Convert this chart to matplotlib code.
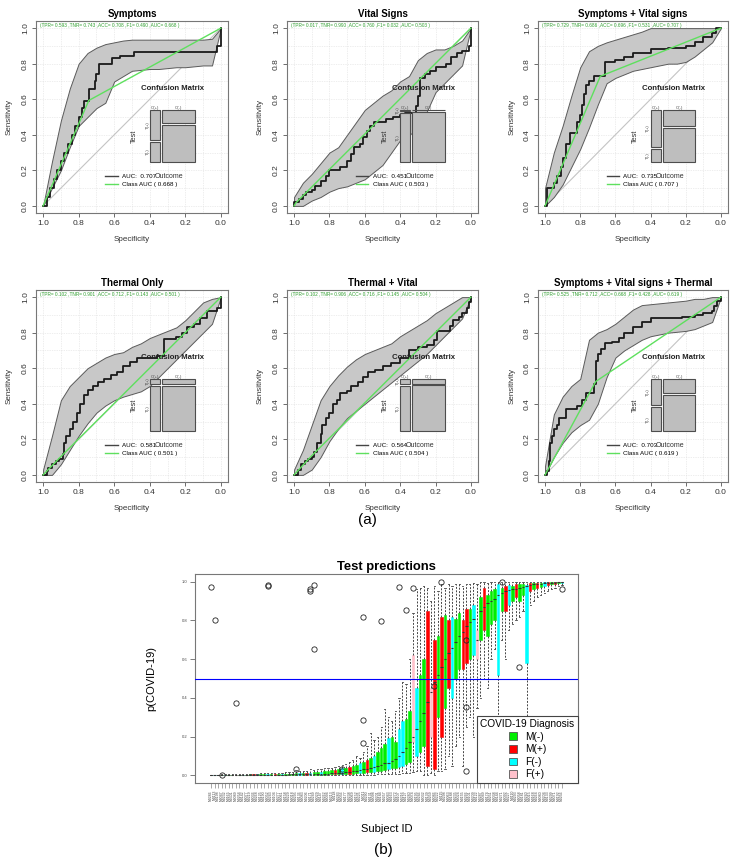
import numpy as np
import matplotlib
matplotlib.use("Agg")
import matplotlib.pyplot as plt
from matplotlib.patches import Rectangle, Patch
from matplotlib.lines import Line2D

plt.rcParams['font.family'] = ['Liberation Sans', 'DejaVu Sans']

# ---------------- (a) ROC panels ----------------
panel_titles = ["Symptoms", "Vital Signs", "Symptoms + Vital signs",
                "Thermal Only", "Thermal + Vital", "Symptoms + Vital signs + Thermal"]
auc = [0.707, 0.451, 0.735, 0.581, 0.564, 0.703]
class_auc = [0.668, 0.503, 0.707, 0.501, 0.504, 0.619]
tpr = [0.593, 0.017, 0.729, 0.102, 0.102, 0.525]
tnr = [0.743, 0.990, 0.686, 0.901, 0.906, 0.712]
acc = [0.708, 0.760, 0.696, 0.712, 0.716, 0.668]
f1 = [0.490, 0.032, 0.531, 0.143, 0.145, 0.428]
prevalence = 0.236  # share of O(+) in the test set

ci_spec = [1.0, 0.95, 0.9, 0.85, 0.8, 0.75, 0.7, 0.65, 0.6, 0.55, 0.5,
           0.45, 0.4, 0.35, 0.3, 0.25, 0.2, 0.15, 0.1, 0.05, 0.0]
ci_upper = [
    [0.0, 0.25, 0.48, 0.66, 0.80, 0.86, 0.89, 0.91, 0.92, 0.93, 0.935, 0.935, 0.935, 0.935, 0.935, 0.935, 0.935, 0.935, 0.935, 0.94, 1.0],
    [0.05, 0.13, 0.18, 0.24, 0.30, 0.33, 0.40, 0.47, 0.54, 0.58, 0.62, 0.65, 0.70, 0.73, 0.82, 0.86, 0.88, 0.88, 0.90, 0.93, 1.0],
    [0.10, 0.30, 0.45, 0.62, 0.78, 0.87, 0.90, 0.92, 0.935, 0.95, 0.965, 0.98, 1.0, 1.0, 1.0, 1.0, 1.0, 1.0, 1.0, 1.0, 1.0],
    [0.03, 0.22, 0.42, 0.50, 0.55, 0.60, 0.63, 0.66, 0.68, 0.69, 0.72, 0.74, 0.77, 0.79, 0.81, 0.83, 0.87, 0.92, 0.97, 0.99, 1.0],
    [0.03, 0.14, 0.28, 0.42, 0.50, 0.56, 0.61, 0.65, 0.68, 0.70, 0.72, 0.74, 0.78, 0.81, 0.84, 0.87, 0.91, 0.94, 0.97, 1.0, 1.0],
    [0.05, 0.34, 0.44, 0.50, 0.54, 0.76, 0.80, 0.82, 0.85, 0.89, 0.93, 0.955, 0.96, 0.965, 0.97, 0.975, 0.98, 0.99, 0.99, 1.0, 1.0],
]
ci_lower = [
    [0.0, 0.10, 0.20, 0.33, 0.45, 0.50, 0.55, 0.58, 0.70, 0.73, 0.76, 0.765, 0.77, 0.77, 0.775, 0.78, 0.78, 0.785, 0.79, 0.79, 1.0],
    [0.0, 0.0, 0.03, 0.05, 0.08, 0.10, 0.11, 0.13, 0.15, 0.19, 0.23, 0.30, 0.37, 0.40, 0.43, 0.53, 0.64, 0.69, 0.74, 0.79, 1.0],
    [0.0, 0.05, 0.12, 0.22, 0.32, 0.44, 0.57, 0.69, 0.72, 0.74, 0.76, 0.77, 0.78, 0.79, 0.80, 0.80, 0.81, 0.84, 0.88, 0.92, 1.0],
    [0.0, 0.0, 0.06, 0.14, 0.22, 0.29, 0.35, 0.39, 0.42, 0.44, 0.455, 0.47, 0.50, 0.55, 0.60, 0.65, 0.70, 0.75, 0.80, 0.85, 1.0],
    [0.0, 0.0, 0.03, 0.10, 0.19, 0.26, 0.32, 0.36, 0.40, 0.44, 0.48, 0.52, 0.56, 0.60, 0.64, 0.68, 0.73, 0.78, 0.83, 0.88, 1.0],
    [0.0, 0.10, 0.18, 0.24, 0.28, 0.31, 0.40, 0.55, 0.66, 0.70, 0.73, 0.76, 0.78, 0.79, 0.80, 0.805, 0.81, 0.82, 0.84, 0.86, 1.0],
]

roc_spec = [
    [1.0, 0.98, 0.96, 0.94, 0.92, 0.90, 0.88, 0.86, 0.84, 0.82, 0.80, 0.78, 0.77, 0.74, 0.71, 0.70, 0.685, 0.61, 0.57, 0.49, 0.02, 0.0],
    [1.00, 1.00, 0.97, 0.95, 0.93, 0.90, 0.88, 0.85, 0.82, 0.80, 0.77, 0.74, 0.70, 0.68, 0.66, 0.63, 0.61, 0.59, 0.57, 0.55,
     0.52, 0.48, 0.44, 0.40, 0.37, 0.34, 0.31, 0.30, 0.29, 0.26, 0.23, 0.20, 0.17, 0.14, 0.11, 0.08, 0.05, 0.03, 0.01, 0.00],
    [1.0, 0.99, 0.97, 0.95, 0.93, 0.91, 0.90, 0.88, 0.86, 0.84, 0.82, 0.80, 0.79, 0.78, 0.77,
     0.75, 0.72, 0.67, 0.66, 0.60, 0.55, 0.50, 0.40, 0.30, 0.20, 0.15, 0.10, 0.05, 0.03, 0.0],
    [1.0, 0.98, 0.97, 0.95, 0.93, 0.91, 0.89, 0.88, 0.87, 0.85, 0.83, 0.81, 0.79, 0.77, 0.75, 0.72, 0.69,
     0.66, 0.62, 0.585, 0.55, 0.51, 0.47, 0.36, 0.32, 0.25, 0.22, 0.19, 0.15, 0.115, 0.08, 0.02, 0.0],
    [1.0, 0.98, 0.96, 0.94, 0.92, 0.90, 0.89, 0.87, 0.85, 0.84, 0.82, 0.80, 0.78, 0.76, 0.74, 0.70, 0.68, 0.64, 0.61,
     0.58, 0.54, 0.50, 0.45, 0.40, 0.35, 0.30, 0.25, 0.21, 0.19, 0.15, 0.12, 0.10, 0.07, 0.05, 0.02, 0.01, 0.0],
    [1.0, 0.99, 0.98, 0.97, 0.96, 0.95, 0.93, 0.92, 0.88, 0.85, 0.82, 0.79, 0.77, 0.73, 0.72, 0.71,
     0.70, 0.68, 0.66, 0.62, 0.58, 0.55, 0.50, 0.45, 0.40, 0.22, 0.15, 0.10, 0.05, 0.04, 0.02, 0.0],
]
roc_sens = [
    [0.0, 0.05, 0.10, 0.15, 0.20, 0.25, 0.30, 0.35, 0.40, 0.45, 0.50, 0.55, 0.59, 0.66, 0.70, 0.74, 0.80, 0.83, 0.845, 0.866, 0.90, 1.0],
    [0.00, 0.02, 0.04, 0.06, 0.08, 0.09, 0.11, 0.14, 0.17, 0.20, 0.20, 0.22, 0.25, 0.29, 0.33, 0.35, 0.39, 0.42, 0.45, 0.47,
     0.47, 0.49, 0.50, 0.51, 0.52, 0.52, 0.56, 0.62, 0.72, 0.74, 0.76, 0.78, 0.78, 0.80, 0.84, 0.86, 0.87, 0.87, 0.90, 1.00],
    [0.0, 0.10, 0.10, 0.13, 0.17, 0.22, 0.27, 0.35, 0.41, 0.41, 0.47, 0.51, 0.57, 0.63, 0.68,
     0.70, 0.73, 0.73, 0.81, 0.82, 0.84, 0.86, 0.88, 0.89, 0.90, 0.92, 0.95, 0.97, 1.0, 1.0],
    [0.0, 0.02, 0.04, 0.06, 0.08, 0.09, 0.12, 0.18, 0.22, 0.26, 0.30, 0.35, 0.40, 0.45, 0.48, 0.50, 0.52,
     0.54, 0.56, 0.58, 0.61, 0.635, 0.66, 0.67, 0.766, 0.775, 0.80, 0.83, 0.85, 0.88, 0.92, 0.94, 1.0],
    [0.0, 0.03, 0.06, 0.08, 0.09, 0.10, 0.13, 0.18, 0.23, 0.28, 0.32, 0.35, 0.40, 0.42, 0.46, 0.47, 0.50, 0.52, 0.55,
     0.58, 0.59, 0.61, 0.63, 0.66, 0.70, 0.72, 0.73, 0.76, 0.81, 0.81, 0.84, 0.87, 0.89, 0.91, 0.94, 0.97, 1.0],
    [0.0, 0.02, 0.08, 0.18, 0.22, 0.26, 0.28, 0.32, 0.37, 0.37, 0.39, 0.42, 0.46, 0.46, 0.51, 0.64,
     0.68, 0.71, 0.74, 0.75, 0.77, 0.80, 0.83, 0.86, 0.88, 0.89, 0.90, 0.91, 0.92, 0.95, 0.98, 1.0],
]

# ---------------- (b) test predictions ----------------
group_codes = ["M-", "M+", "F-", "F+"]
group_names = ["M(-)", "M(+)", "F(-)", "F(+)"]
group_colors = ["#00ee00", "#ff0000", "#00ffff", "#ffc0cb"]

subject_ids = [
    "N0286", "N0113", "N0198", "N0047", "N0232", "N0165", "N0301", "N0089", "N0254", "N0142",
    "N0077", "N0219", "N0036", "N0268", "N0125", "N0190", "N0052", "N0243", "N0104", "N0277",
    "N0061", "N0158", "N0229", "N0018", "N0295", "N0136", "N0083", "N0206", "N0171", "N0249",
    "N0029", "N0147", "N0262", "N0094", "N0213", "N0118", "N0283", "N0056", "N0177", "N0238",
    "N0069", "N0152", "N0225", "N0011", "N0290", "N0131", "N0098", "N0201", "N0184", "N0257",
    "N0043", "N0163", "N0272", "N0107", "N0216", "N0127", "N0280", "N0074", "N0195", "N0246",
    "N0032", "N0139", "N0259", "N0086", "N0222", "N0115", "N0298", "N0063", "N0188", "N0235",
    "N0024", "N0155", "N0266", "N0101", "N0209", "N0122", "N0287", "N0049", "N0174", "N0251",
    "N0038", "N0144", "N0271", "N0092", "N0227", "N0110", "N0293", "N0058", "N0181", "N0240",
    "N0015", "N0168", "N0264", "N0080", "N0204", "N0133", "N0299", "N0071", "N0192", "N0256"]

box_group = [
    "M-", "F-", "M+", "M-", "F-", "M-", "M-", "F+", "M-", "F-",
    "M-", "M-", "M+", "F-", "M-", "M-", "F-", "M-", "M+", "M-",
    "F-", "M-", "M-", "M-", "M-", "F-", "M-", "M+", "F-", "M-",
    "M-", "F-", "M-", "M-", "M-", "M+", "M-", "F-", "M-", "M+",
    "M-", "M-", "F-", "M-", "M+", "M-", "F-", "M-", "M-", "M-",
    "F-", "M-", "M-", "F-", "F-", "M-", "M-", "F+", "F-", "M-",
    "M-", "M+", "F+", "M+", "M-", "M+", "M-", "M+", "F-", "M-",
    "M-", "M+", "M+", "M-", "F-", "F+", "M-", "M+", "M-", "M-",
    "M-", "F-", "M-", "M+", "F-", "M-", "M+", "M-", "M-", "F-",
    "M+", "M-", "M+", "M-", "F-", "M+", "M-", "M+", "M-", "F-"]
box_med = [
    0.000, 0.000, 0.000, 0.001, 0.001, 0.001, 0.001, 0.001, 0.001, 0.001,
    0.001, 0.002, 0.002, 0.002, 0.002, 0.002, 0.002, 0.003, 0.003, 0.003,
    0.003, 0.003, 0.004, 0.004, 0.004, 0.005, 0.005, 0.005, 0.006, 0.006,
    0.007, 0.007, 0.008, 0.009, 0.010, 0.011, 0.012, 0.014, 0.016, 0.018,
    0.020, 0.023, 0.026, 0.030, 0.034, 0.038, 0.043, 0.048, 0.055, 0.062,
    0.065, 0.075, 0.085, 0.100, 0.120, 0.140, 0.170, 0.200, 0.240, 0.280,
    0.320, 0.380, 0.430, 0.480, 0.520, 0.560, 0.600, 0.630, 0.660, 0.690,
    0.720, 0.740, 0.770, 0.790, 0.810, 0.700, 0.850, 0.870, 0.890, 0.900,
    0.910, 0.930, 0.940, 0.950, 0.955, 0.960, 0.965, 0.970, 0.975, 0.980,
    0.983, 0.986, 0.988, 0.990, 0.992, 0.994, 0.995, 0.996, 0.997, 0.998]
box_q1 = [
    0.000, 0.000, 0.000, 0.000, 0.000, 0.000, 0.000, 0.000, 0.000, 0.000,
    0.000, 0.001, 0.001, 0.001, 0.001, 0.001, 0.001, 0.001, 0.001, 0.001,
    0.001, 0.001, 0.001, 0.002, 0.002, 0.002, 0.002, 0.002, 0.002, 0.003,
    0.003, 0.003, 0.003, 0.004, 0.004, 0.005, 0.005, 0.006, 0.007, 0.008,
    0.009, 0.010, 0.011, 0.013, 0.015, 0.016, 0.018, 0.020, 0.024, 0.028,
    0.030, 0.035, 0.040, 0.045, 0.050, 0.060, 0.070, 0.170, 0.100, 0.120,
    0.150, 0.050, 0.200, 0.030, 0.300, 0.200, 0.350, 0.450, 0.400, 0.500,
    0.550, 0.550, 0.580, 0.600, 0.620, 0.600, 0.700, 0.750, 0.720, 0.780,
    0.800, 0.520, 0.850, 0.850, 0.880, 0.900, 0.920, 0.900, 0.930, 0.580,
    0.950, 0.960, 0.970, 0.975, 0.980, 0.985, 0.987, 0.990, 0.992, 0.994]
box_q3 = [
    0.001, 0.001, 0.001, 0.002, 0.002, 0.002, 0.002, 0.003, 0.003, 0.003,
    0.003, 0.004, 0.004, 0.004, 0.005, 0.005, 0.005, 0.006, 0.006, 0.007,
    0.007, 0.008, 0.008, 0.009, 0.010, 0.011, 0.012, 0.013, 0.014, 0.015,
    0.016, 0.018, 0.020, 0.022, 0.025, 0.028, 0.032, 0.036, 0.040, 0.045,
    0.050, 0.055, 0.062, 0.070, 0.080, 0.090, 0.100, 0.120, 0.140, 0.160,
    0.190, 0.200, 0.170, 0.240, 0.280, 0.290, 0.330, 0.620, 0.450, 0.520,
    0.600, 0.850, 0.450, 0.700, 0.720, 0.820, 0.830, 0.800, 0.820, 0.810,
    0.840, 0.800, 0.860, 0.860, 0.880, 0.750, 0.920, 0.970, 0.930, 0.950,
    0.960, 0.990, 0.970, 0.980, 0.985, 0.980, 0.990, 0.990, 0.990, 0.985,
    0.992, 0.994, 0.995, 0.996, 0.997, 0.998, 0.998, 0.999, 0.999, 1.000]
box_lo = [
    0.000, 0.000, 0.000, 0.000, 0.000, 0.000, 0.000, 0.000, 0.000, 0.000,
    0.000, 0.000, 0.000, 0.000, 0.000, 0.000, 0.000, 0.000, 0.000, 0.000,
    0.000, 0.000, 0.000, 0.000, 0.000, 0.000, 0.000, 0.000, 0.000, 0.000,
    0.000, 0.000, 0.000, 0.000, 0.000, 0.001, 0.001, 0.001, 0.001, 0.001,
    0.001, 0.001, 0.002, 0.002, 0.002, 0.003, 0.003, 0.004, 0.004, 0.005,
    0.005, 0.006, 0.007, 0.008, 0.010, 0.010, 0.012, 0.015, 0.020, 0.020,
    0.000, 0.000, 0.010, 0.000, 0.020, 0.020, 0.030, 0.100, 0.050, 0.150,
    0.200, 0.050, 0.250, 0.300, 0.200, 0.350, 0.400, 0.500, 0.450, 0.600,
    0.650, 0.200, 0.700, 0.600, 0.750, 0.780, 0.800, 0.820, 0.850, 0.300,
    0.880, 0.900, 0.920, 0.930, 0.940, 0.950, 0.960, 0.970, 0.980, 0.985]
box_hi = [
    0.002, 0.002, 0.003, 0.004, 0.004, 0.005, 0.005, 0.006, 0.006, 0.007,
    0.007, 0.008, 0.008, 0.009, 0.010, 0.010, 0.011, 0.012, 0.012, 0.013,
    0.014, 0.015, 0.016, 0.018, 0.025, 0.020, 0.022, 0.024, 0.030, 0.028,
    0.030, 0.032, 0.035, 0.040, 0.038, 0.045, 0.050, 0.055, 0.060, 0.070,
    0.080, 0.100, 0.090, 0.120, 0.150, 0.220, 0.180, 0.200, 0.250, 0.340,
    0.300, 0.280, 0.330, 0.400, 0.480, 0.470, 0.600, 0.840, 0.960, 0.970,
    0.980, 0.970, 0.900, 0.980, 0.950, 0.990, 0.970, 0.990, 0.980, 0.990,
    0.990, 0.980, 0.990, 0.990, 0.995, 0.990, 1.000, 1.000, 0.995, 1.000,
    1.000, 1.000, 1.000, 1.000, 1.000, 1.000, 1.000, 1.000, 1.000, 1.000,
    1.000, 1.000, 1.000, 1.000, 1.000, 1.000, 1.000, 1.000, 1.000, 1.000]
outlier_box = [1, 2, 4, 8, 17, 17, 25, 29, 29, 30, 30, 38, 38, 44, 44, 44, 49, 54, 56, 58,
               64, 66, 73, 73, 73, 83, 88, 100]
outlier_val = [0.975, 0.80, 0.0, 0.375, 0.985, 0.98, 0.03, 0.95, 0.965, 0.985, 0.65, 0.03, 0.02,
               0.82, 0.285, 0.165, 0.795, 0.975, 0.855, 0.97, 0.46, 1.0, 0.70, 0.355, 0.02,
               1.0, 0.56, 0.96]

W, H = 735, 863
fig = plt.figure(figsize=(W / 100, H / 100), dpi=100)


def px_axes(left, top, right, bottom):
    return fig.add_axes([left / W, 1 - bottom / H, (right - left) / W, (bottom - top) / H])


GREEN = "#5ee05e"
AXC = "#555555"


def draw_roc(ax, k):
    ax.set_xlim(1.04, -0.04)
    ax.set_ylim(-0.04, 1.04)
    ticks = [1.0, 0.8, 0.6, 0.4, 0.2, 0.0]
    ax.set_xticks(ticks)
    ax.set_yticks(ticks[::-1])
    ax.set_xticklabels([f"{t:.1f}" for t in ticks])
    ax.set_yticklabels([f"{t:.1f}" for t in ticks[::-1]])
    grid = np.arange(0, 1.01, 0.1)
    for g in grid:
        ax.axvline(g, color="#dddddd", lw=0.5, ls=(0, (1, 1.5)), zorder=0)
        ax.axhline(g, color="#dddddd", lw=0.5, ls=(0, (1, 1.5)), zorder=0)
    ax.plot([1, 0], [0, 1], color="#c4c4c4", lw=0.8, zorder=1)
    ax.fill_between(ci_spec, ci_lower[k], ci_upper[k], facecolor="#c8c8c8",
                    edgecolor="#5a5a5a", lw=0.7, zorder=2)
    ax.step(roc_spec[k], roc_sens[k], where="post", color="#1a1a1a", lw=1.3, zorder=4)
    ax.plot([1, tnr[k], 0], [0, tpr[k], 1], color=GREEN, lw=1.0, zorder=5)

    ax.text(1.02, 1.017,
            f"(TPR= {tpr[k]:.3f} ,TNR= {tnr[k]:.3f} ,ACC= {acc[k]:.3f} ,F1= {f1[k]:.3f} ,AUC= {class_auc[k]:.3f} )",
            color="#2f9e2f", fontsize=3.4, ha="left", va="center", zorder=6)

    # confusion matrix mosaic
    x_hi, x_lo, y_lo, y_hi, gap = 0.40, 0.145, 0.245, 0.54, 0.01
    wt = (x_hi - x_lo) - gap
    ht = (y_hi - y_lo) - gap
    w_pos = prevalence * wt
    cols = [(x_hi - w_pos, w_pos, tpr[k]), (x_lo, wt - w_pos, 1 - tnr[k])]
    tile = dict(facecolor="#bebebe", edgecolor="#4d4d4d", lw=0.8, zorder=7)
    for x0, w, frac_top in cols:
        h_top = frac_top * ht
        ax.add_patch(Rectangle((x0, y_hi - h_top), w, h_top, **tile))
        ax.add_patch(Rectangle((x0, y_lo), w, ht - h_top, **tile))
    ax.text(x_hi - w_pos / 2, y_hi + 0.013, "O(+)", fontsize=3, ha="center", va="center", color="#444", zorder=8)
    ax.text(x_lo + (wt - w_pos) / 2, y_hi + 0.013, "O(-)", fontsize=3, ha="center", va="center", color="#444", zorder=8)
    h_top = tpr[k] * ht
    ax.text(x_hi + 0.013, y_hi - h_top / 2, "T(+)", fontsize=3, rotation=90, ha="center", va="center", color="#444", zorder=8)
    ax.text(x_hi + 0.013, y_lo + (ht - h_top) / 2, "T(-)", fontsize=3, rotation=90, ha="center", va="center", color="#444", zorder=8)
    ax.text(0.485, (y_lo + y_hi) / 2, "Test", fontsize=5.3, rotation=90, ha="center", va="center", color="#333", zorder=8)
    ax.text(0.29, 0.165, "Outcome", fontsize=5, ha="center", va="center", color="#333", zorder=8)
    ax.text(0.27, 0.66, "Confusion Matrix", fontsize=5.6, fontweight="bold", ha="center", va="center", color="#222", zorder=8)

    handles = [Line2D([], [], color="#444444", lw=1.0), Line2D([], [], color=GREEN, lw=1.0)]
    labels = [f"AUC:  {auc[k]:.3f}", f"Class AUC ( {class_auc[k]:.3f} )"]
    ax.legend(handles, labels, loc="upper left", bbox_to_anchor=(0.361, 0.205), frameon=False,
              fontsize=4.5, handlelength=2.0, handletextpad=0.7, labelspacing=0.45,
              borderpad=0, borderaxespad=0)

    ax.set_title(panel_titles[k], fontsize=7, fontweight="bold", pad=3)
    ax.set_xlabel("Specificity", fontsize=5.8, color="#333")
    ax.set_ylabel("Sensitivity", fontsize=5.8, color="#333")
    ax.xaxis.set_label_coords(0.5, -0.12)
    ax.yaxis.set_label_coords(-0.12, 0.5)
    ax.tick_params(labelsize=6, length=3, width=0.6, color=AXC, labelcolor="#333", pad=2)
    ax.tick_params(axis="y", labelrotation=90)
    for lab in ax.get_yticklabels():
        lab.set_va("center")
    for s in ax.spines.values():
        s.set_color("#777777")
        s.set_linewidth(0.8)


cols_px = [(36, 228), (287, 478), (538, 728)]
rows_px = [(21, 213), (290, 482)]
k = 0
for top, bottom in rows_px:
    for left, right in cols_px:
        draw_roc(px_axes(left, top, right, bottom), k)
        k += 1

fig.text(367 / W, 1 - 520 / H, "(a)", fontsize=11, ha="center", va="center")

# ---------------- bottom panel ----------------
axb = px_axes(195, 574, 578, 783)
n = len(box_med)
positions = np.arange(1, n + 1)
stats = []
for i in range(n):
    stats.append(dict(med=box_med[i], q1=box_q1[i], q3=box_q3[i],
                      whislo=box_lo[i], whishi=box_hi[i],
                      fliers=[v for b, v in zip(outlier_box, outlier_val) if b == i + 1]))
bp = axb.bxp(stats, positions=positions, widths=0.7, patch_artist=True, showfliers=True,
             boxprops=dict(linewidth=0.4),
             whiskerprops=dict(color="#444444", linewidth=0.7, linestyle=(0, (2, 1.5))),
             capprops=dict(color="#444444", linewidth=0.6),
             medianprops=dict(color="#333333", linewidth=0.8),
             flierprops=dict(marker="o", markerfacecolor="none", markeredgecolor="#222222",
                             markersize=3.8, markeredgewidth=0.6),
             manage_ticks=False)
for patch, g in zip(bp["boxes"], box_group):
    c = group_colors[group_codes.index(g)]
    patch.set_facecolor(c)
    patch.set_edgecolor(c)

axb.axhline(0.5, color="blue", lw=0.8, zorder=3)
axb.set_xlim(0.5 - 0.04 * n, n + 0.5 + 0.04 * n)
axb.set_ylim(-0.04, 1.04)
axb.set_xticks(positions)
axb.set_xticklabels(subject_ids, rotation=90, fontsize=2.6, color="#444")
yt = [0.0, 0.2, 0.4, 0.6, 0.8, 1.0]
axb.set_yticks(yt)
axb.set_yticklabels([f"{t:.1f}" for t in yt], fontsize=3, color="#444")
axb.tick_params(axis="x", length=3.5, width=0.4, color="#666", pad=1.5)
axb.tick_params(axis="y", length=3.5, width=0.6, color="#666", pad=2)
for s in axb.spines.values():
    s.set_color("#777777")
    s.set_linewidth(0.8)
axb.set_title("Test predictions", fontsize=9.4, fontweight="bold", pad=3)
axb.set_ylabel("p(COVID-19)", fontsize=8)
axb.set_xlabel("Subject ID", fontsize=8)
axb.yaxis.set_label_coords(-0.10, 0.5)
axb.xaxis.set_label_coords(0.5, -0.194)

leg_handles = [Patch(facecolor=c, edgecolor="#555555", lw=0.6) for c in group_colors]
leg = axb.legend(leg_handles, group_names, title="COVID-19 Diagnosis", loc="lower right",
                 fontsize=7.3, title_fontsize=7.3, borderaxespad=0, fancybox=False,
                 framealpha=1, edgecolor="#444444", handlelength=0.8, handleheight=0.8,
                 labelspacing=0.25, borderpad=0.35, handletextpad=0.8)
leg.get_frame().set_linewidth(0.8)

fig.text(383 / W, 1 - 850 / H, "(b)", fontsize=11, ha="center", va="center")

fig.savefig("out.png", dpi=100)
